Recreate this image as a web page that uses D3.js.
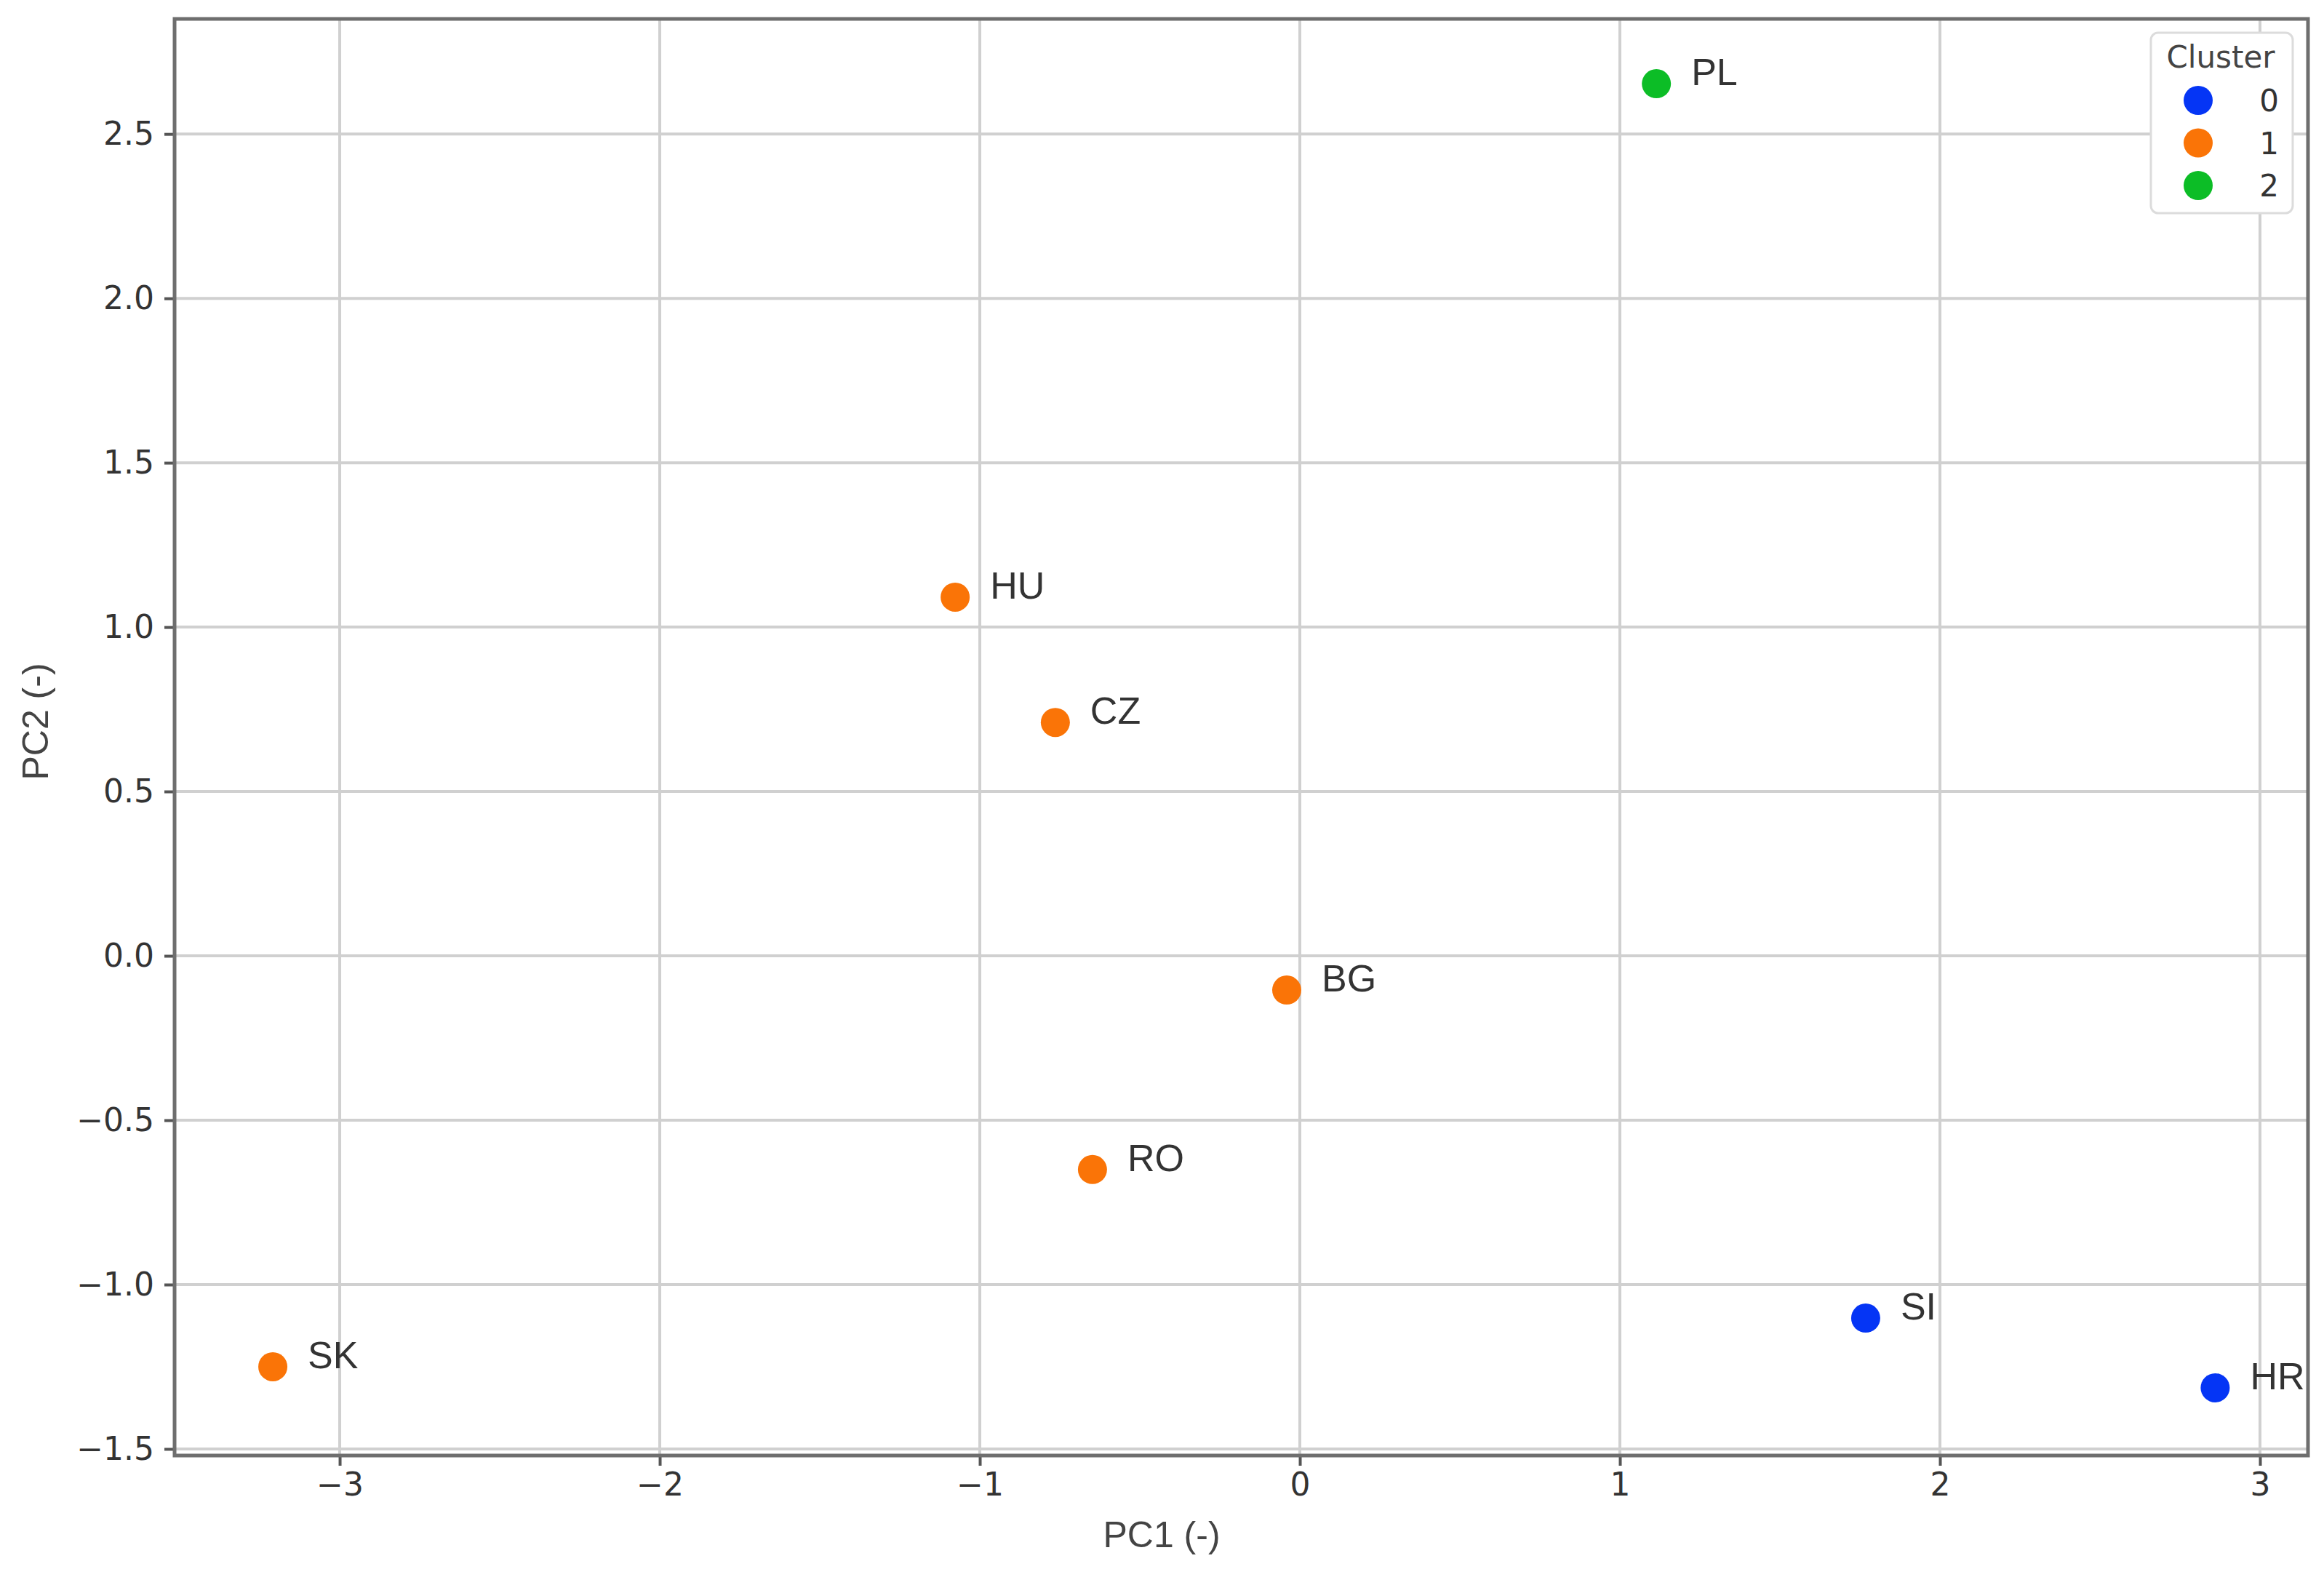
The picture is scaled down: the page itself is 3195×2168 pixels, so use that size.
<!DOCTYPE html>
<html>
<head>
<meta charset="utf-8">
<script src="https://cdn.jsdelivr.net/npm/d3@7"></script>
<style>
  body { margin: 0; background: #fff; }
  .grid line { stroke: #d0d0d0; stroke-width: 4; }
  .axis text { font-family: "DejaVu Sans", sans-serif; font-size: 44px; fill: #333; }
  .axis line { stroke: #555; stroke-width: 4; }
  .axis path { display: none; }
</style>
</head>
<body>
<div class="chart"></div>
<script>
const svgWidth = 3195
const svgHeight = 2168

// data
const countries = ["PL", "HU", "CZ", "BG", "RO", "SK", "SI", "HR"]
const pc1 = [1.114, -1.077, -0.764, -0.041, -0.648, -3.209, 1.768, 2.86]
const pc2 = [2.653, 1.091, 0.710, -0.104, -0.650, -1.250, -1.102, -1.314]
const cluster = [2, 1, 1, 1, 1, 1, 0, 0]

const clusterIds = [0, 1, 2]
const clusterColors = ["#0535f5", "#fa7407", "#0cbd26"]
const xTicks = [-3, -2, -1, 0, 1, 2, 3]
const yTicks = [-1.5, -1.0, -0.5, 0.0, 0.5, 1.0, 1.5, 2.0, 2.5]

let margin = { top: 26, right: 22, bottom: 167, left: 240 }
let width = svgWidth - margin.left - margin.right
let height = svgHeight - margin.top - margin.bottom

let svg = d3.select(".chart")
  .append("svg")
  .attr("width", svgWidth)
  .attr("height", svgHeight)

let chartGroup = svg.append("g")
  .attr("transform", `translate(${margin.left}, ${margin.top})`)

let xScale = d3.scaleLinear().domain([-3.516, 3.15]).range([0, width])
let yScale = d3.scaleLinear().domain([-1.52, 2.85]).range([height, 0])
let color = d3.scaleOrdinal().domain(clusterIds).range(clusterColors)

// grid
chartGroup.append("g").attr("class", "grid")
  .selectAll("line").data(xTicks).enter().append("line")
  .attr("x1", d => xScale(d)).attr("x2", d => xScale(d))
  .attr("y1", 0).attr("y2", height)
chartGroup.append("g").attr("class", "grid")
  .selectAll("line").data(yTicks).enter().append("line")
  .attr("x1", 0).attr("x2", width)
  .attr("y1", d => yScale(d)).attr("y2", d => yScale(d))

// axes
chartGroup.append("g").attr("class", "axis")
  .attr("transform", `translate(0, ${height})`)
  .call(d3.axisBottom(xScale).tickValues(xTicks).tickFormat(d3.format("d")).tickSize(14).tickPadding(10))
chartGroup.append("g").attr("class", "axis")
  .call(d3.axisLeft(yScale).tickValues(yTicks).tickFormat(d3.format(".1f")).tickSize(14).tickPadding(14))

// frame
chartGroup.append("rect")
  .attr("width", width).attr("height", height)
  .attr("fill", "none").attr("stroke", "#6e6e6e").attr("stroke-width", 5)

// points
let data = countries.map((c, i) => ({ code: c, x: pc1[i], y: pc2[i], cl: cluster[i] }))

chartGroup.selectAll("circle.pt").data(data).enter().append("circle")
  .attr("class", "pt")
  .attr("cx", d => xScale(d.x)).attr("cy", d => yScale(d.y))
  .attr("r", 20)
  .attr("fill", d => color(d.cl))

chartGroup.selectAll("text.lbl").data(data).enter().append("text")
  .attr("class", "lbl")
  .attr("x", d => xScale(d.x) + 48).attr("y", d => yScale(d.y) + 2)
  .attr("font-family", "Liberation Sans, Arial, sans-serif")
  .attr("font-size", 52).attr("fill", "#333")
  .text(d => d.code)

// legend
let legend = svg.append("g").attr("transform", "translate(2957, 45)")
legend.append("rect")
  .attr("width", 195).attr("height", 248).attr("rx", 10)
  .attr("fill", "#fff").attr("stroke", "#dcdcdc").attr("stroke-width", 3)
legend.append("text")
  .attr("x", 96).attr("y", 48).attr("text-anchor", "middle")
  .attr("font-family", "DejaVu Sans, sans-serif").attr("font-size", 42).attr("fill", "#444")
  .text("Cluster")
let items = legend.selectAll("g.item").data(clusterIds).enter().append("g")
  .attr("transform", (d, i) => `translate(0, ${93 + i * 58.5})`)
items.append("circle").attr("cx", 65).attr("r", 20).attr("fill", d => color(d))
items.append("text")
  .attr("x", 176).attr("dy", "0.36em").attr("text-anchor", "end")
  .attr("font-family", "DejaVu Sans, sans-serif").attr("font-size", 42).attr("fill", "#333")
  .text(d => d)

// axis titles
svg.append("text")
  .attr("x", 1597).attr("y", 2127).attr("text-anchor", "middle")
  .attr("font-family", "Liberation Sans, Arial, sans-serif").attr("font-size", 50).attr("fill", "#444")
  .text("PC1 (-)")
svg.append("text")
  .attr("transform", "translate(66, 992) rotate(-90)")
  .attr("text-anchor", "middle")
  .attr("font-family", "Liberation Sans, Arial, sans-serif").attr("font-size", 50).attr("fill", "#444")
  .text("PC2 (-)")
</script>
</body>
</html>
